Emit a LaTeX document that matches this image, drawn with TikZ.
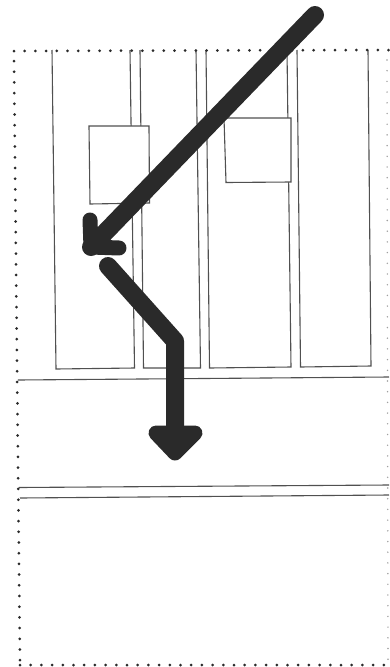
\documentclass[tikz,border=0pt]{standalone}
\definecolor{ink}{HTML}{2A2A2A}
\definecolor{thin}{HTML}{505050}
\tikzset{
  wall/.style={draw=thin,line width=1.1pt},
  panel/.style={draw=thin,line width=1.1pt,fill=white},
  dotline/.style={draw=ink,line width=3pt,line cap=round,dash pattern=on 0pt off 10.7pt},
  bold/.style={draw=ink,line width=18pt,line cap=round,line join=round},
  boldhead/.style={draw=ink,line width=15pt,line join=round,line cap=round}
}
\begin{document}
\begin{tikzpicture}[x=1pt,y=-1pt]
\useasboundingbox (0,0) rectangle (389,667);
\fill[white] (0,0) rectangle (389,667);
% columns
\draw[wall] (52,50) -- (56,369) -- (134.5,368) -- (130,50);
\draw[wall] (140,50) -- (143.5,368) -- (200.5,368) -- (196,50);
\draw[wall] (206,50) -- (209.5,368) -- (291,367) -- (287,50);
\draw[wall] (297,50) -- (300.5,367) -- (371,366) -- (368,50);
% shelves
\draw[wall] (18,380) -- (389,377);
\draw[wall] (19,487.5) -- (389,485);
\draw[wall] (20,498) -- (389,495);
% boxes
\draw[panel] (89,126) -- (149,126) -- (149.5,203) -- (90,204) -- cycle;
\draw[panel] (224,118) -- (291,118) -- (291,182) -- (226,182.5) -- cycle;
% dotted frame
\draw[dotline] (14,51) -- (389,50);
\draw[dotline] (14,61) -- (20,665);
\draw[dotline] (20,665) -- (389,665);
\draw[draw=ink!45,line width=1.6pt,line cap=round,dash pattern=on 0pt off 10.7pt] (387,60) -- (388,660);
% arrows
\coordinate (a1) at (315,15);
\coordinate (a2) at (91,247);
\coordinate (b1) at (108,266);
\coordinate (b2) at (175,341);
\coordinate (b3) at (175,445);
\draw[bold] (a1) -- (a2);
\draw[boldhead] (90,220) -- (a2) -- (119,248);
\draw[bold] (b1) -- (b2) -- (b3);
\draw[boldhead,fill=ink] (156,433) -- (175,453) -- (195,433) -- cycle;
\end{tikzpicture}
\end{document}
